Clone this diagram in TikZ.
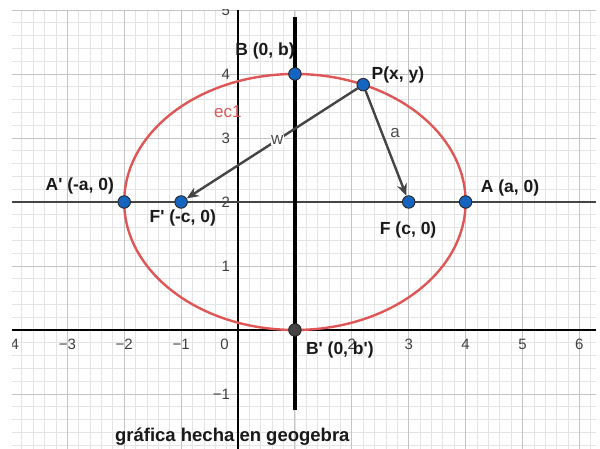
\documentclass[tikz,border=0pt]{standalone}
\usepackage{fontspec}
\setmainfont{Liberation Sans}
\usetikzlibrary{arrows.meta}

\definecolor{ptblue}{RGB}{21,101,192}
\definecolor{ecred}{RGB}{222,86,86}
\definecolor{segray}{RGB}{68,68,68}
\definecolor{majgrid}{RGB}{196,196,196}
\definecolor{mingrid}{RGB}{228,228,228}
\newcommand{\pr}{\textquotesingle}

\begin{document}
\begin{tikzpicture}[
  x=56.9pt, y=64pt,
  pt/.style={circle, draw=black!85, line width=0.9pt, fill=ptblue, inner sep=0pt, minimum size=12.5pt},
  lbl/.style={font=\fontsize{17.5}{20}\selectfont\bfseries, text=black!90},
  ticklbl/.style={font=\fontsize{15}{17}\selectfont, text=black!75},
  seglbl/.style={font=\fontsize{17}{19}\selectfont, text=black!70},
  vec/.style={draw=segray, line width=2.4pt, -{Stealth[length=12pt, width=10pt]}}
]
  \def\gl{-3.97}
  \def\gr{6.3}
  \def\gb{-1.86}
  \def\gt{5}

  \useasboundingbox (-4.183,-1.859) rectangle (6.362,5.156);

  \begin{scope}
    \clip (\gl,\gb) rectangle (\gr,\gt);
    \draw[mingrid, line width=0.7pt, step=0.2] (\gl,\gb) grid (\gr,\gt);
    \draw[majgrid, line width=0.9pt, step=1] (\gl,\gb) grid (\gr,\gt);
    \draw[black, line width=1.1pt] (\gl,0) -- (\gr,0);
    \draw[black, line width=1.1pt] (0,\gb) -- (0,\gt);
    \foreach \v/\t in {-4/−4, -3/−3, -2/−2, -1/−1, 2/2, 3/3, 4/4, 5/5, 6/6}
      \node[ticklbl] (xt\v) at (\v,-0.23) {\t};
    \foreach \v/\t in {-1/−1, 1/1, 2/2, 3/3, 4/4, 5/5}
      \node[ticklbl, anchor=east] (yt\v) at (-0.08,\v) {\t};
    \node[ticklbl, anchor=east] (orig) at (-0.1,-0.23) {0};
  \end{scope}

  \draw[segray, line width=2.8pt] (\gl,2) -- (\gr,2);
  \draw[black, line width=3.6pt] (1,-1.25) -- (1,4.89);
  \draw[ecred, line width=2.4pt] (1,2) ellipse [x radius=3, y radius=2];

  \node[pt] (Ap) at (-2,2) {};
  \node[pt] (Fp) at (-1,2) {};
  \node[pt] (F) at (3,2) {};
  \node[pt] (A) at (4,2) {};
  \node[pt] (B) at (1,4) {};
  \node[pt, fill=segray] (Bp) at (1,0) {};
  \node[pt] (P) at ({1+3*cos(66.4)},{2+2*sin(66.4)}) {};

  \draw[vec] (P) -- (Fp) node[seglbl, pos=0.47, fill=white, inner sep=0.5pt] (w) {w};
  \draw[vec] (P) -- (F) node[seglbl, pos=0.4, right=4pt] (a) {a};

  \node[lbl] (Bl) at (0.475,4.36) {B (0, b)};
  \node[lbl] (Pl) at (2.81,3.98) {P(x, y)};
  \node[seglbl, text=ecred] (ec) at (-0.18,3.41) {ec1};
  \node[lbl] (Apl) at (-2.78,2.25) {A\pr{} (-a, 0)};
  \node[lbl] (Fpl) at (-0.97,1.75) {F\pr{} (-c, 0)};
  \node[lbl] (Fl) at (2.99,1.56) {F (c, 0)};
  \node[lbl] (Al) at (4.78,2.22) {A (a, 0)};
  \node[lbl] (Bpl) at (1.79,-0.31) {B\pr{} (0, b\pr)};
  \node[lbl, font=\fontsize{18.5}{20}\selectfont\bfseries] (cap) at (-0.1,-1.67) {gráfica hecha en geogebra};
\end{tikzpicture}
\end{document}
